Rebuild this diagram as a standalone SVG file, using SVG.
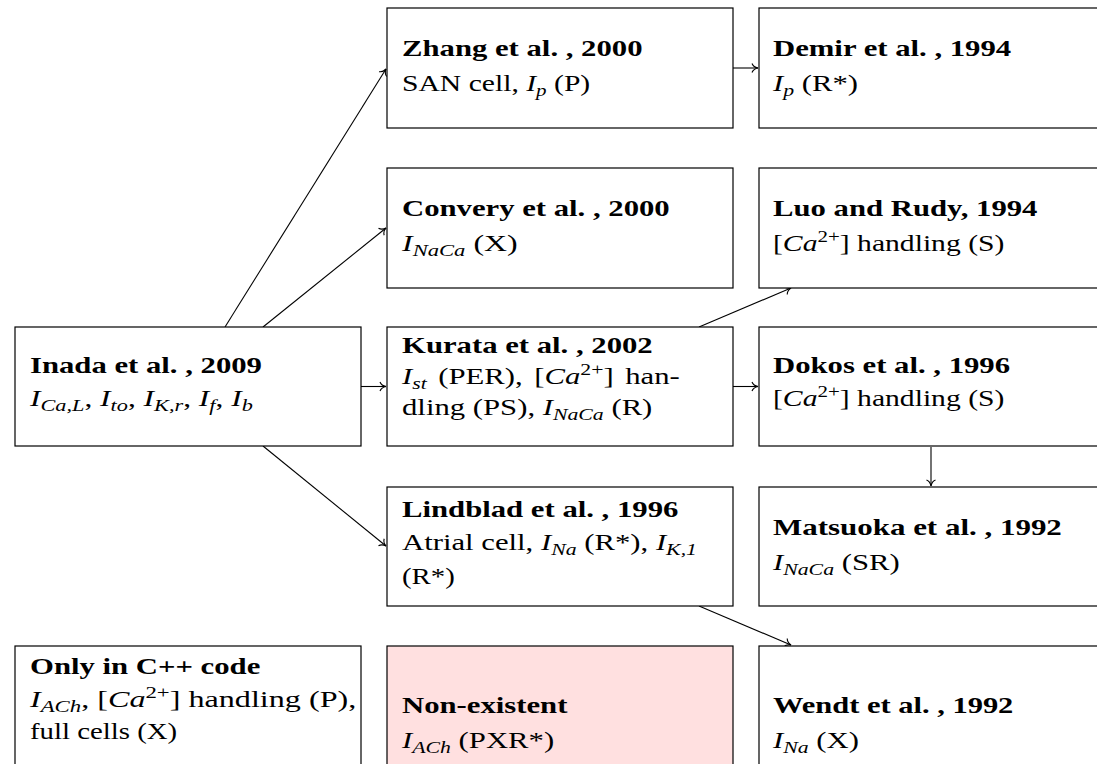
<svg xmlns="http://www.w3.org/2000/svg" width="1097" height="764" viewBox="0 0 1097 764">
<style>
rect{fill:#fff;stroke:#000;stroke-width:1.2}
rect.pink{fill:#ffe0e0}
text{font-family:"Liberation Serif","Times New Roman",serif;font-size:24px;fill:#000}
.t{font-weight:bold}
.i{font-style:italic}
.s{font-size:17px}
.c line{stroke:#000;stroke-width:1.1;fill:none}
</style>
<defs>
<marker id="a" markerUnits="userSpaceOnUse" markerWidth="14" markerHeight="14" refX="0" refY="0" viewBox="-8 -7 10 14" orient="auto">
<path d="M-6,-4.5 C-5,-2 -2,-0.4 0,0 C-2,0.4 -5,2 -6,4.5" fill="none" stroke="#000" stroke-width="1.1"/>
</marker>
</defs>
<g class="c" id="connectors">
<line x1="225" y1="327" x2="386" y2="69" marker-end="url(#a)"/>
<line x1="263" y1="327" x2="386" y2="228" marker-end="url(#a)"/>
<line x1="361" y1="386.5" x2="386" y2="386.5" marker-end="url(#a)"/>
<line x1="263" y1="446" x2="386" y2="546" marker-end="url(#a)"/>
<line x1="733" y1="68" x2="758" y2="68" marker-end="url(#a)"/>
<line x1="733" y1="386.5" x2="758" y2="386.5" marker-end="url(#a)"/>
<line x1="699" y1="327" x2="791" y2="288" marker-end="url(#a)"/>
<line x1="699" y1="606" x2="791" y2="645" marker-end="url(#a)"/>
<line x1="931" y1="447" x2="931" y2="486" marker-end="url(#a)"/>
</g>
<g id="zhang">
<rect x="387" y="8" width="346" height="120"/>
<text class="t" transform="matrix(1.28,0,0,1,402,56)">Zhang et al. , 2000</text>
<text transform="matrix(1.235,0,0,1,402,91)">SAN cell, <tspan class="i">I</tspan><tspan class="i s" dy="5">p</tspan><tspan dy="-5"> (P)</tspan></text>
</g>
<g id="demir">
<rect x="759" y="8" width="360" height="120"/>
<text class="t" transform="matrix(1.28,0,0,1,773,56)">Demir et al. , 1994</text>
<text transform="matrix(1.28,0,0,1,773,91)"><tspan class="i">I</tspan><tspan class="i s" dy="5">p</tspan><tspan dy="-5"> (R*)</tspan></text>
</g>
<g id="convery">
<rect x="387" y="168" width="346" height="120"/>
<text class="t" transform="matrix(1.28,0,0,1,402,216)">Convery et al. , 2000</text>
<text transform="matrix(1.33,0,0,1,402,251)"><tspan class="i">I</tspan><tspan class="i s" dy="5">NaCa</tspan><tspan dy="-5"> (X)</tspan></text>
</g>
<g id="luo">
<rect x="759" y="168" width="360" height="120"/>
<text class="t" transform="matrix(1.28,0,0,1,773,216)">Luo and Rudy, 1994</text>
<text transform="matrix(1.235,0,0,1,773,251)">[<tspan class="i">Ca</tspan><tspan class="s" dy="-9">2+</tspan><tspan dy="9">] handling (S)</tspan></text>
</g>
<g id="inada">
<rect x="15" y="327" width="346" height="119"/>
<text class="t" transform="matrix(1.28,0,0,1,30,373)">Inada et al. , 2009</text>
<text transform="matrix(1.31,0,0,1,30,406)"><tspan class="i">I</tspan><tspan class="i s" dy="5">Ca,L</tspan><tspan dy="-5">, </tspan><tspan class="i">I</tspan><tspan class="i s" dy="5">to</tspan><tspan dy="-5">, </tspan><tspan class="i">I</tspan><tspan class="i s" dy="5">K,r</tspan><tspan dy="-5">, </tspan><tspan class="i">I</tspan><tspan class="i s" dy="5">f</tspan><tspan dy="-5">, </tspan><tspan class="i">I</tspan><tspan class="i s" dy="5">b</tspan></text>
</g>
<g id="kurata">
<rect x="387" y="327" width="346" height="119"/>
<text class="t" transform="matrix(1.28,0,0,1,402,353)">Kurata et al. , 2002</text>
<text transform="matrix(1.28,0,0,1,402,384)" word-spacing="3"><tspan class="i">I</tspan><tspan class="i s" dy="5">st</tspan><tspan dy="-5"> (PER), [</tspan><tspan class="i">Ca</tspan><tspan class="s" dy="-9">2+</tspan><tspan dy="9">] han-</tspan></text>
<text transform="matrix(1.28,0,0,1,402,415)">dling (PS), <tspan class="i">I</tspan><tspan class="i s" dy="5">NaCa</tspan><tspan dy="-5"> (R)</tspan></text>
</g>
<g id="dokos">
<rect x="759" y="327" width="360" height="119"/>
<text class="t" transform="matrix(1.28,0,0,1,773,373)">Dokos et al. , 1996</text>
<text transform="matrix(1.235,0,0,1,773,406)">[<tspan class="i">Ca</tspan><tspan class="s" dy="-9">2+</tspan><tspan dy="9">] handling (S)</tspan></text>
</g>
<g id="lindblad">
<rect x="387" y="487" width="346" height="119"/>
<text class="t" transform="matrix(1.28,0,0,1,402,517)">Lindblad et al. , 1996</text>
<text transform="matrix(1.28,0,0,1,402,550)">Atrial cell, <tspan class="i">I</tspan><tspan class="i s" dy="5">Na</tspan><tspan dy="-5"> (R*), </tspan><tspan class="i">I</tspan><tspan class="i s" dy="5">K,1</tspan></text>
<text transform="matrix(1.2,0,0,1,402,584)">(R*)</text>
</g>
<g id="matsuoka">
<rect x="759" y="487" width="360" height="119"/>
<text class="t" transform="matrix(1.29,0,0,1,773,535)">Matsuoka et al. , 1992</text>
<text transform="matrix(1.28,0,0,1,773,570)"><tspan class="i">I</tspan><tspan class="i s" dy="5">NaCa</tspan><tspan dy="-5"> (SR)</tspan></text>
</g>
<g id="cpp">
<rect x="15" y="646" width="346" height="130"/>
<text class="t" transform="matrix(1.28,0,0,1,30,674)">Only in C++ code</text>
<text transform="matrix(1.34,0,0,1,30,707)"><tspan class="i">I</tspan><tspan class="i s" dy="5">ACh</tspan><tspan dy="-5">, [</tspan><tspan class="i">Ca</tspan><tspan class="s" dy="-9">2+</tspan><tspan dy="9">] handling (P),</tspan></text>
<text transform="matrix(1.2,0,0,1,30,739)">full cells (X)</text>
</g>
<g id="nonexistent">
<rect class="pink" x="387" y="646" width="346" height="130"/>
<text class="t" transform="matrix(1.28,0,0,1,402,713)">Non-existent</text>
<text transform="matrix(1.28,0,0,1,402,748)"><tspan class="i">I</tspan><tspan class="i s" dy="5">ACh</tspan><tspan dy="-5"> (PXR*)</tspan></text>
</g>
<g id="wendt">
<rect x="759" y="646" width="360" height="130"/>
<text class="t" transform="matrix(1.27,0,0,1,773,713)">Wendt et al. , 1992</text>
<text transform="matrix(1.28,0,0,1,773,748)"><tspan class="i">I</tspan><tspan class="i s" dy="5">Na</tspan><tspan dy="-5"> (X)</tspan></text>
</g>
</svg>
